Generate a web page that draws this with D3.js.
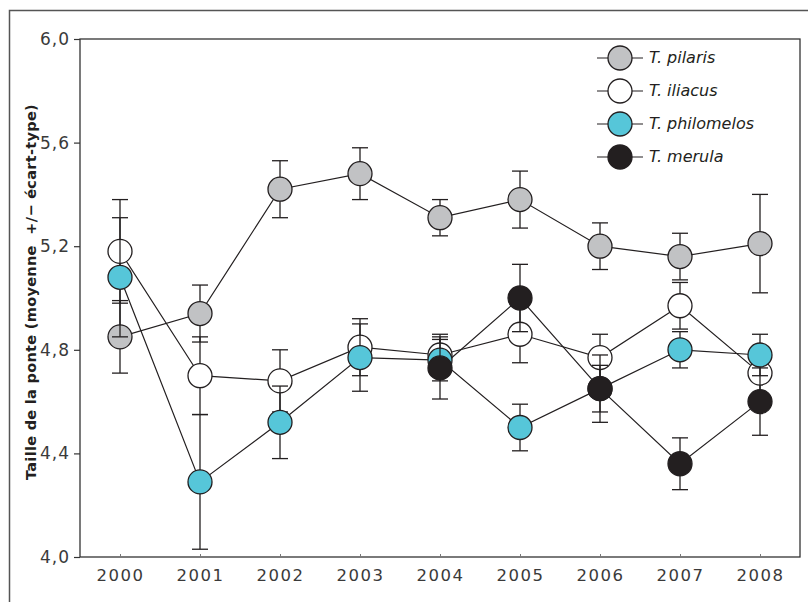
<!DOCTYPE html>
<html>
<head>
<meta charset="utf-8">
<script src="https://cdn.jsdelivr.net/npm/d3@7"></script>
<style>
  body { margin: 0; background: #fff; }
  svg { display: block; }
</style>
</head>
<body>
<div id="chart"></div>
<script>
const years = ['2000', '2001', '2002', '2003', '2004', '2005', '2006', '2007', '2008'];
const yTicks = [4.0, 4.4, 4.8, 5.2, 5.6, 6.0];

const pilarisMean = [4.85, 4.94, 5.42, 5.48, 5.31, 5.38, 5.20, 5.16, 5.21];
const pilarisSd   = [0.14, 0.11, 0.11, 0.10, 0.07, 0.11, 0.09, 0.09, 0.19];
const iliacusMean = [5.18, 4.70, 4.68, 4.81, 4.78, 4.86, 4.77, 4.97, 4.71];
const iliacusSd   = [0.20, 0.15, 0.12, 0.11, 0.08, 0.11, 0.09, 0.09, 0.10];
const philomelosMean = [5.08, 4.29, 4.52, 4.77, 4.76, 4.50, 4.65, 4.80, 4.78];
const philomelosSd   = [0.23, 0.26, 0.14, 0.13, 0.08, 0.09, 0.09, 0.07, 0.08];
const merulaMean = [null, null, null, null, 4.73, 5.00, 4.65, 4.36, 4.60];
const merulaSd   = [null, null, null, null, 0.12, 0.13, 0.13, 0.10, 0.13];

const seriesNames = ['T. pilaris', 'T. iliacus', 'T. philomelos', 'T. merula'];
const seriesFill = ['#c1c2c4', '#ffffff', '#56c6d9', '#231f20'];

const series = [
    { name: seriesNames[0], fill: seriesFill[0], mean: pilarisMean, sd: pilarisSd },
    { name: seriesNames[1], fill: seriesFill[1], mean: iliacusMean, sd: iliacusSd },
    { name: seriesNames[2], fill: seriesFill[2], mean: philomelosMean, sd: philomelosSd },
    { name: seriesNames[3], fill: seriesFill[3], mean: merulaMean, sd: merulaSd }
].map(s => ({
    ...s,
    values: years.map((y, i) => ({ year: y, mean: s.mean[i], sd: s.sd[i] }))
                 .filter(d => d.mean !== null)
}));

const W = 808, H = 602;
const plot = { left: 80, right: 800, top: 39, bottom: 557 };
const ink = '#231f20';
const textColor = '#3a3a3a';

const svg = d3.select('#chart')
    .append('svg')
    .attr('width', W)
    .attr('height', H);

// outer frame (left + top only)
svg.append('path')
    .attr('d', `M9.5,${H} V10.5 H${W}`)
    .attr('fill', 'none')
    .attr('stroke', '#555')
    .attr('stroke-width', 1.5);

const x = d3.scalePoint()
    .domain(years)
    .range([plot.left, plot.right])
    .padding(0.5);

const y = d3.scaleLinear()
    .domain([4, 6])
    .range([plot.bottom, plot.top]);

// plot box
svg.append('rect')
    .attr('x', plot.left)
    .attr('y', plot.top)
    .attr('width', plot.right - plot.left)
    .attr('height', plot.bottom - plot.top)
    .attr('fill', 'none')
    .attr('stroke', '#333')
    .attr('stroke-width', 1.3);

// y axis
const yAxis = svg.append('g')
    .attr('transform', `translate(${plot.left},0)`)
    .call(d3.axisLeft(y)
        .tickValues(yTicks)
        .tickSize(6)
        .tickPadding(4)
        .tickFormat(d => d3.format('.1f')(d).replace('.', ',')));
yAxis.select('.domain').remove();
yAxis.selectAll('line').attr('stroke', '#333').attr('stroke-width', 1.2);
yAxis.selectAll('text')
    .attr('fill', textColor)
    .style('font-family', 'DejaVu Sans, sans-serif')
    .style('font-size', '17px')
    .style('letter-spacing', '1px');

// x axis
const xAxis = svg.append('g')
    .attr('transform', `translate(0,${plot.bottom})`)
    .call(d3.axisBottom(x)
        .tickSize(-3)
        .tickPadding(12));
xAxis.select('.domain').remove();
xAxis.selectAll('line').attr('stroke', '#777').attr('stroke-width', 1);
xAxis.selectAll('text')
    .attr('fill', textColor)
    .style('font-family', 'DejaVu Sans, sans-serif')
    .style('font-size', '16.5px')
    .style('letter-spacing', '1.5px');

// y title
svg.append('text')
    .attr('transform', 'rotate(-90)')
    .attr('x', -292)
    .attr('y', 36)
    .attr('text-anchor', 'middle')
    .attr('fill', ink)
    .style('font-family', 'DejaVu Sans, sans-serif')
    .style('font-weight', 'bold')
    .style('font-size', '14.5px')
    .style('letter-spacing', '0.3px')
    .style('white-space', 'pre')
    .text('Taille de la ponte (moyenne  +/\u2212 écart-type)');

// connecting lines
const line = d3.line()
    .x(d => x(d.year))
    .y(d => y(d.mean));

svg.append('g')
    .selectAll('path')
    .data(series)
    .join('path')
    .attr('d', d => line(d.values))
    .attr('fill', 'none')
    .attr('stroke', ink)
    .attr('stroke-width', 1.2);

// error bars + markers, series by series
const capHalf = 8;
const r = 12;

series.forEach(s => {
    const g = svg.append('g');

    const bars = g.selectAll('.bar')
        .data(s.values)
        .join('g')
        .attr('class', 'bar');

    bars.append('line')
        .attr('x1', d => x(d.year))
        .attr('x2', d => x(d.year))
        .attr('y1', d => y(d.mean + d.sd))
        .attr('y2', d => y(d.mean - d.sd));
    bars.append('line')
        .attr('x1', d => x(d.year) - capHalf)
        .attr('x2', d => x(d.year) + capHalf)
        .attr('y1', d => y(d.mean + d.sd))
        .attr('y2', d => y(d.mean + d.sd));
    bars.append('line')
        .attr('x1', d => x(d.year) - capHalf)
        .attr('x2', d => x(d.year) + capHalf)
        .attr('y1', d => y(d.mean - d.sd))
        .attr('y2', d => y(d.mean - d.sd));
    bars.selectAll('line')
        .attr('stroke', ink)
        .attr('stroke-width', 1.3);

    g.selectAll('circle')
        .data(s.values)
        .join('circle')
        .attr('cx', d => x(d.year))
        .attr('cy', d => y(d.mean))
        .attr('r', r)
        .attr('fill', s.fill)
        .attr('stroke', ink)
        .attr('stroke-width', 1.3);
});

// legend
const legend = svg.append('g')
    .attr('transform', 'translate(620,58)');

const legendItem = legend.selectAll('.legend-item')
    .data(series)
    .join('g')
    .attr('class', 'legend-item')
    .attr('transform', (d, i) => `translate(0,${i * 33})`);

legendItem.append('line')
    .attr('x1', -23)
    .attr('x2', 23)
    .attr('stroke', ink)
    .attr('stroke-width', 1.2);

legendItem.append('circle')
    .attr('r', r)
    .attr('fill', d => d.fill)
    .attr('stroke', ink)
    .attr('stroke-width', 1.3);

legendItem.append('text')
    .attr('x', 29)
    .attr('y', 5)
    .attr('fill', ink)
    .style('font-family', 'DejaVu Sans, sans-serif')
    .style('font-style', 'italic')
    .style('font-size', '16px')
    .text(d => d.name);
</script>
</body>
</html>
